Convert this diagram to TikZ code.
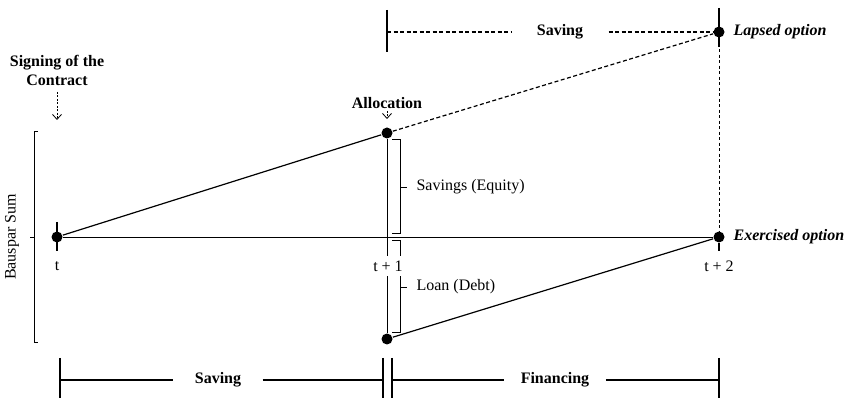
\documentclass[tikz,border=0pt]{standalone}
\usepackage{fontspec}
\setmainfont{Liberation Serif}
\usepackage{tikz}
\usetikzlibrary{arrows.meta,positioning,calc}

\tikzset{
  dot/.style={circle,fill=black,inner sep=0pt,minimum size=11pt},
  lbl/.style={inner sep=0pt,font=\fontsize{16}{19}\selectfont},
  blbl/.style={lbl,font=\fontsize{16}{19}\selectfont\bfseries},
  opt/.style={lbl,anchor=west,font=\fontsize{16}{19}\selectfont\bfseries\itshape},
  dsh/.style={dash pattern=on 4pt off 2.5pt},
  pointer/.style={dash pattern=on 2pt off 1.5pt,-{Straight Barb[length=5pt,width=9pt]}},
  brk/.style={line width=0.8pt}
}

\begin{document}
\begin{tikzpicture}[x=1pt,y=-1pt,line width=1.2pt,>=Stealth]
  \useasboundingbox (0,0) rectangle (847,398);
  % main points
  \node[dot] (t0) at (57,237) {};
  \node[dot] (alloc) at (387,133) {};
  \node[dot] (loan) at (387,339) {};
  \node[dot] (lapse) at (719,32) {};
  \node[dot] (exer) at (719,237) {};
  % connections
  \draw[line width=0.8pt] (t0) -- (exer);
  \draw (t0) -- (alloc);
  \draw[line width=1pt] (alloc) -- (loan);
  \draw[dsh] (alloc) -- (lapse);
  \draw[dsh,line width=0.9pt,dash pattern=on 3pt off 2.5pt] (lapse) -- (exer);
  \draw (loan) -- (exer);
  % ticks at the points
  \draw (57,222) -- (57,251);
  \draw (exer) -- (719,251);
  \draw (719,8) -- (719,47);
  % brackets at allocation
  \draw[brk] (392,139) -- (400,139) -- (400,233) -- (392,233);
  \draw[brk] (400,187) -- (407,187);
  \draw[brk] (392,240) -- (400,240) -- (400,332) -- (392,332);
  \draw[brk] (400,287) -- (407,287);
  \node[lbl,anchor=west] (equity) at (416,187) {Savings (Equity)};
  \node[lbl,anchor=west] (debt) at (416,287) {Loan (Debt)};
  % time labels
  \node[lbl] (lt) at (57,266) {t};
  \node[lbl,fill=white,inner xsep=1pt,inner ysep=5pt] (lt1) at (388,266) {t + 1};
  \node[lbl] (lt2) at (719,266) {t + 2};
  % options
  \node[opt] (lapsed) at (733,32) {Lapsed option};
  \node[opt] (exercised) at (733,237) {Exercised option};
  % event labels
  \node[blbl,align=center] (sign) at (57,70) {Signing of the\\Contract};
  \coordinate (signtip) at (57,120);
  \draw[pointer,line width=0.8pt] (57,92) -- (signtip);
  \node[blbl] (allocl) at (387,103) {Allocation};
  \coordinate (alloctip) at (387,119);
  \draw[pointer,line width=0.8pt] (387,111) -- (alloctip);
  % bauspar sum bracket
  \draw[brk] (38,131) -- (34,131) -- (34,342) -- (38,342);
  \draw[brk] (30,237) -- (34,237);
  \node[lbl,rotate=90] (sum) at (12,237) {Bauspar Sum};
  % upper saving phase
  \coordinate (us0) at (387,32);
  \draw (387,10) -- (387,52);
  \node[blbl,inner xsep=25pt] (usave) at (560,32) {Saving};
  \draw[dsh] (us0) -- (usave.west);
  \draw[dsh] (usave.east) -- (lapse);
  % lower phases
  \coordinate (p0) at (60,380);
  \coordinate (p1) at (383,380);
  \coordinate (p2) at (392,380);
  \coordinate (p3) at (719,380);
  \foreach \x in {60,383,392,719}
    \draw (\x,358) -- (\x,398);
  \node[blbl,inner xsep=21pt] (lsave) at (218,380) {Saving};
  \node[blbl,inner xsep=16pt] (fin) at (555,380) {Financing};
  \draw (p0) -- (lsave.west);  \draw (lsave.east) -- (p1);
  \draw (p2) -- (fin.west);    \draw (fin.east) -- (p3);
\end{tikzpicture}
\end{document}
